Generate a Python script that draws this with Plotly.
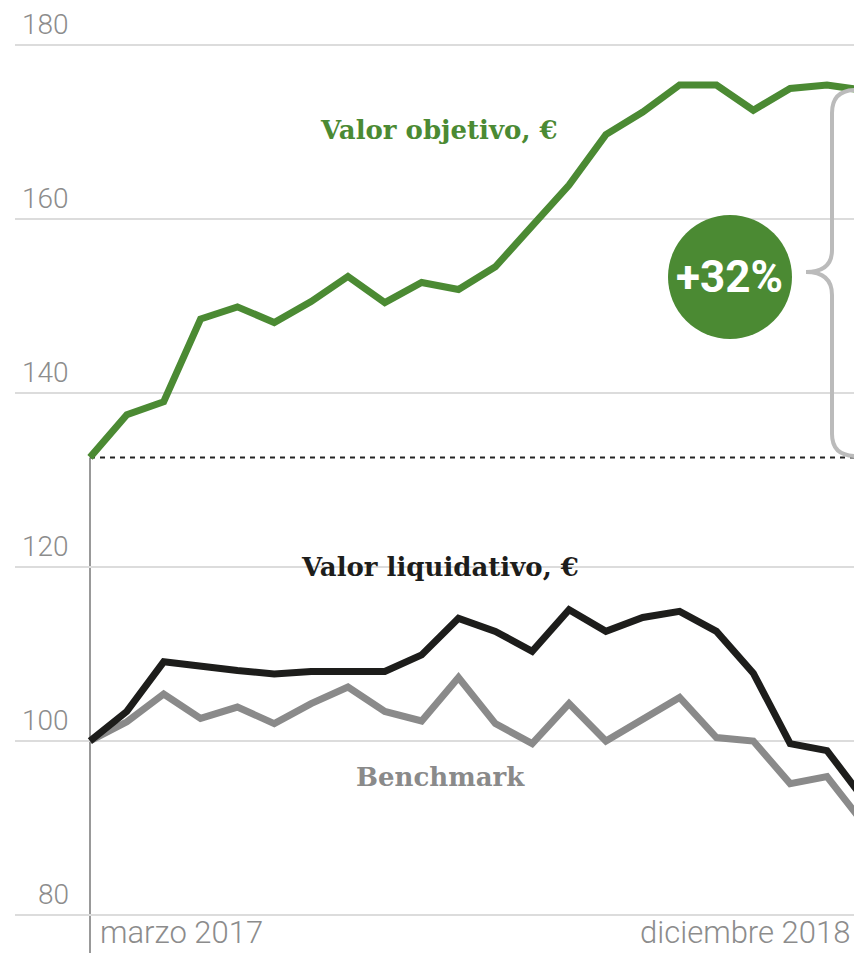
import plotly.graph_objects as go

# ---- data ----
months = list(range(22))  # marzo 2017 (0) ... diciembre 2018 (21)
valor_objetivo = [132.6, 137.5, 139.0, 148.5, 149.9, 148.1, 150.5, 153.4, 150.4, 152.7,
                  151.9, 154.5, 159.2, 163.9, 169.7, 172.3, 175.4, 175.4, 172.5, 175.0,
                  175.4, 174.8]
valor_liquidativo = [100.0, 103.4, 109.1, 108.5, 108.1, 107.7, 108.0, 108.0, 108.0, 109.9,
                     114.1, 112.6, 110.3, 115.1, 112.6, 114.2, 114.9, 112.6, 107.8, 99.7,
                     98.9, 93.3]
benchmark = [100.0, 102.2, 105.4, 102.6, 103.9, 102.0, 104.3, 106.2, 103.4, 102.3,
             107.3, 102.0, 99.7, 104.3, 100.0, 102.4, 105.0, 100.4, 100.0, 95.1,
             95.9, 90.5]
y_ticks = [80, 100, 120, 140, 160, 180]
x_labels = ["marzo 2017", "diciembre 2018"]
change_label = "+32%"

GREEN = "#4b8a33"
BLACK = "#1d1d1b"
GRAY = "#8a8a8a"

W, H = 854, 953
L = 15
X0PX, XPX = 90, 36.85   # pixel of month 0, px per month
YPX = 8.7               # px per unit
Y100 = 741              # pixel of value 100

xmin = (L - X0PX) / XPX
xmax = (W - X0PX) / XPX
ymin = 100 - (H - Y100) / YPX
ymax = 100 + Y100 / YPX


def dx(px):
    return (px - X0PX) / XPX


def dy(py):
    return 100 + (Y100 - py) / YPX


fig = go.Figure()
fig.add_trace(go.Scatter(x=months, y=benchmark, mode="lines",
                         line=dict(color=GRAY, width=7), hoverinfo="skip"))
fig.add_trace(go.Scatter(x=months, y=valor_liquidativo, mode="lines",
                         line=dict(color=BLACK, width=7), hoverinfo="skip"))
fig.add_trace(go.Scatter(x=months, y=valor_objetivo, mode="lines",
                         line=dict(color=GREEN, width=7), hoverinfo="skip"))

shapes = []
# dashed baseline at starting target value
shapes.append(dict(type="line", xref="x", yref="y", x0=0, x1=xmax,
                   y0=valor_objetivo[0], y1=valor_objetivo[0],
                   line=dict(color="#222222", width=2, dash="5px,5px"), layer="below"))
# vertical line at start
shapes.append(dict(type="line", xref="x", yref="y", x0=0, x1=0,
                   y0=ymin, y1=valor_objetivo[0],
                   line=dict(color="#777777", width=1.5), layer="below"))
# brace
bp = [("M", 856, 90), ("Q", 832, 90, 832, 113), ("L", 832, 250), ("Q", 832, 272, 806, 272),
      ("Q", 832, 272, 832, 295), ("L", 832, 434), ("Q", 832, 456, 856, 456)]
path = ""
for seg in bp:
    cmd = seg[0]
    coords = seg[1:]
    pts = []
    for i in range(0, len(coords), 2):
        pts.append(f"{dx(coords[i]):.4f},{dy(coords[i+1]):.4f}")
    path += cmd + " " + " ".join(pts) + " "
shapes.append(dict(type="path", xref="x", yref="y", path=path.strip(),
                   line=dict(color="#bbbbbb", width=4)))
# circle
shapes.append(dict(type="circle", xref="x", yref="y", xsizemode="pixel", ysizemode="pixel",
                   xanchor=dx(730), yanchor=dy(277), x0=-62, x1=62, y0=-62, y1=62,
                   fillcolor=GREEN, line=dict(width=0)))

annotations = []
for t in y_ticks:
    annotations.append(dict(x=dx(71), y=t, xref="x", yref="y", text=str(t), showarrow=False,
                            xanchor="right", yanchor="bottom", yshift=2,
                            font=dict(family="Roboto", size=28, color="#8c8c8c", weight=300)))
annotations.append(dict(x=0, y=ymin, xref="x", yref="y", text=x_labels[0], showarrow=False,
                        xanchor="left", yanchor="bottom", xshift=8, yshift=0,
                        font=dict(family="Roboto", size=31, color="#8c8c8c", weight=300)))
annotations.append(dict(x=xmax, y=ymin, xref="x", yref="y", text=x_labels[1], showarrow=False,
                        xanchor="right", yanchor="bottom", xshift=-2, yshift=0,
                        font=dict(family="Roboto", size=31, color="#8c8c8c", weight=300)))
LBL_FONT = "DejaVu Serif"
annotations.append(dict(x=dx(439), y=dy(130), xref="x", yref="y", text="<b>Valor objetivo, €</b>",
                        showarrow=False, font=dict(family=LBL_FONT, size=26, color=GREEN)))
annotations.append(dict(x=dx(440), y=dy(567), xref="x", yref="y", text="<b>Valor liquidativo, €</b>",
                        showarrow=False, font=dict(family=LBL_FONT, size=26, color=BLACK)))
annotations.append(dict(x=dx(440), y=dy(777), xref="x", yref="y", text="<b>Benchmark</b>",
                        showarrow=False, font=dict(family=LBL_FONT, size=26, color=GRAY)))
annotations.append(dict(x=dx(729), y=dy(277), xref="x", yref="y", text="<b>" + change_label + "</b>",
                        showarrow=False, font=dict(family="Roboto", size=44, color="white")))

fig.update_layout(
    width=W, height=H,
    margin=dict(l=L, r=0, t=0, b=0),
    paper_bgcolor="white", plot_bgcolor="white",
    showlegend=False,
    xaxis=dict(range=[xmin, xmax], showgrid=False, zeroline=False, showticklabels=False,
               showline=False, fixedrange=True),
    yaxis=dict(range=[ymin, ymax], tickvals=y_ticks, showgrid=True, gridcolor="#dcdcdc",
               gridwidth=2, zeroline=False, showticklabels=False, showline=False, fixedrange=True),
    shapes=shapes,
    annotations=annotations,
)

fig.write_html("out.html", config={"displayModeBar": False},
               post_script="document.body.style.margin='0';document.body.style.overflow='hidden';")
